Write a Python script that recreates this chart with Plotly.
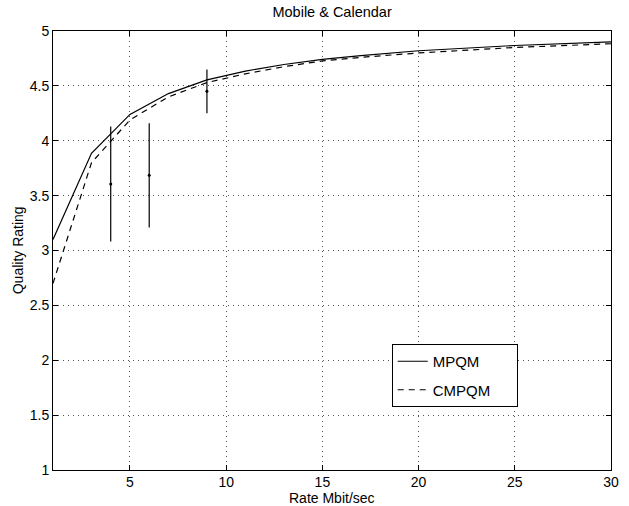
import plotly.graph_objects as go

# Data
rate = [1, 3, 5, 7, 9, 11, 13, 15, 17, 20, 25, 30]
mpqm = [3.10, 3.886, 4.24, 4.43, 4.555, 4.635, 4.695, 4.742, 4.775, 4.82, 4.868, 4.90]
cmpqm = [2.70, 3.80, 4.19, 4.40, 4.53, 4.61, 4.675, 4.727, 4.76, 4.80, 4.85, 4.884]

subj_rate = [4, 6, 9]
subj_mean = [3.605, 3.685, 4.45]
subj_err = [0.524, 0.475, 0.20]

x_ticks = [5, 10, 15, 20, 25, 30]
y_ticks = [1, 1.5, 2, 2.5, 3, 3.5, 4, 4.5, 5]

FONT = "Liberation Sans, Arial, Helvetica, sans-serif"
W, H = 629, 506
ML, MR, MT, MB = 53, 18, 31, 36

fig = go.Figure()
fig.add_trace(go.Scatter(x=rate, y=mpqm, mode="lines", name="MPQM",
                         legendgroup="a",
                         line=dict(color="black", width=1.2)))
fig.add_trace(go.Scatter(x=rate, y=cmpqm, mode="lines", name="CMPQM\u00a0\u00a0\u00a0\u00a0\u00a0",
                         legendgroup="b",
                         line=dict(color="black", width=1.2, dash="6px,5px")))
fig.add_trace(go.Scatter(x=subj_rate, y=subj_mean, mode="markers", showlegend=False,
                         marker=dict(color="black", size=3),
                         error_y=dict(type="data", array=subj_err, symmetric=True,
                                      color="black", thickness=1.2, width=0)))

axis_common = dict(showline=True, linecolor="black", linewidth=1, mirror="ticks",
                   ticks="inside", ticklen=5, tickcolor="black",
                   showgrid=True, gridcolor="#555", griddash="1px,4px", gridwidth=1,
                   zeroline=False, tickfont=dict(size=14, color="black", family=FONT))

fig.update_xaxes(range=[1, 30], tickvals=x_ticks, ticktext=[str(v) for v in x_ticks],
                 ticklabelstandoff=-1, **axis_common)
fig.update_yaxes(range=[1, 5], tickvals=y_ticks, ticktext=[f"{v:g}" for v in y_ticks],
                 **axis_common)

plot_w = W - ML - MR
plot_h = H - MT - MB
fig.add_annotation(text="Rate Mbit/sec", xref="paper", yref="paper",
                   x=(332 - ML) / plot_w, y=-(497.5 - (H - MB)) / plot_h,
                   xanchor="center", yanchor="middle", showarrow=False,
                   font=dict(size=14, color="black", family=FONT))
fig.add_annotation(text="Quality Rating", xref="paper", yref="paper",
                   x=(18.3 - ML) / plot_w, y=((H - MB) - 250) / plot_h,
                   xanchor="center", yanchor="middle", showarrow=False, textangle=-90,
                   font=dict(size=14, color="black", family=FONT))

fig.update_layout(
    width=W, height=H,
    margin=dict(l=ML, r=MR, t=MT, b=MB, autoexpand=False),
    paper_bgcolor="white", plot_bgcolor="white",
    font=dict(family=FONT, color="black", size=14),
    title=dict(text="Mobile & Calendar", x=0.528, xanchor="center",
               y=1 - 12 / H, yanchor="middle", yref="container",
               font=dict(size=14.5, color="black", family=FONT)),
    legend=dict(x=0.607, y=0.287, xanchor="left", yanchor="top",
                bordercolor="black", borderwidth=1, bgcolor="white",
                traceorder="grouped", tracegroupgap=6,
                font=dict(size=15, color="black", family=FONT)),
)

fig.write_html("out.html", config={"displayModeBar": False},
               post_script="document.body.style.margin='0';document.body.style.overflow='hidden';")
